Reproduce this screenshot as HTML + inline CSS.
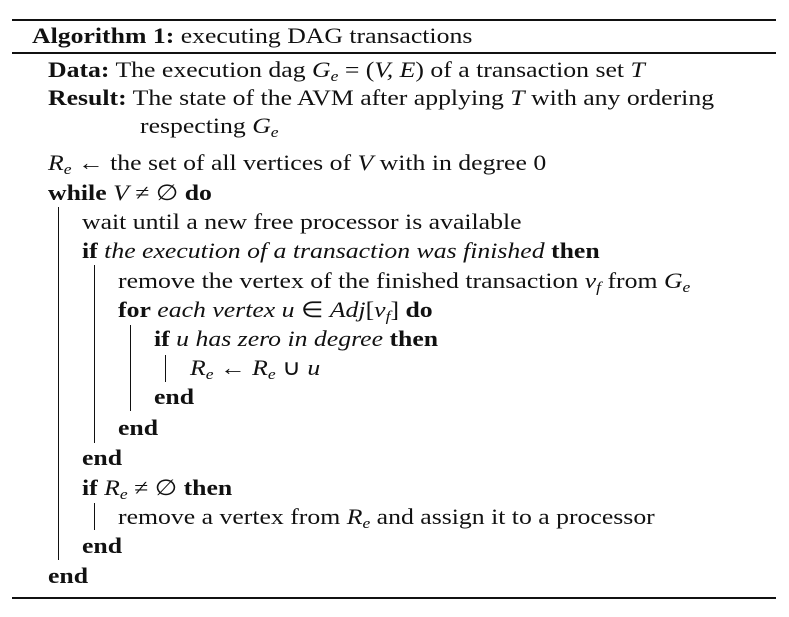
<!DOCTYPE html>
<html><head><meta charset="utf-8"><style>
body{margin:0;background:#fff;}
#c{position:relative;width:789px;height:617px;background:#fff;font-family:"Liberation Serif",serif;font-size:22px;color:#111;}
.l{position:absolute;white-space:nowrap;line-height:24px;transform:scaleX(1.17);transform-origin:0 50%;}
.r{position:absolute;background:#111;}
b{font-weight:bold;}
i{font-style:italic;}
sub{font-size:15px;vertical-align:-4px;line-height:0;}
</style></head><body>
<div id="c">
<div class="r" style="left:12px;top:19px;width:764px;height:2px"></div>
<div class="l" style="left:32px;top:24px"><b>Algorithm 1:</b> executing DAG transactions</div>
<div class="r" style="left:12px;top:52px;width:764px;height:1.5px"></div>
<div class="l" style="left:48px;top:58px"><b>Data:</b> The execution dag <i>G</i><sub><i>e</i></sub> = (<i>V, E</i>) of a transaction set <i>T</i></div>
<div class="l" style="left:48px;top:86px"><b>Result:</b> The state of the AVM after applying <i>T</i> with any ordering</div>
<div class="l" style="left:140px;top:114px">respecting <i>G</i><sub><i>e</i></sub></div>
<div class="l" style="left:48px;top:151px"><i>R</i><sub><i>e</i></sub> ← the set of all vertices of <i>V</i> with in degree 0</div>
<div class="l" style="left:48px;top:181px"><b>while</b> <i>V</i> ≠ ∅ <b>do</b></div>
<div class="r" style="left:58px;top:207px;width:1px;height:353px"></div>
<div class="l" style="left:82px;top:210px">wait until a new free processor is available</div>
<div class="l" style="left:82px;top:239px"><b>if</b> <i>the execution of a transaction was finished</i> <b>then</b></div>
<div class="r" style="left:94px;top:265px;width:1px;height:178px"></div>
<div class="l" style="left:118px;top:269px">remove the vertex of the finished transaction <i>v</i><sub><i>f</i></sub> from <i>G</i><sub><i>e</i></sub></div>
<div class="l" style="left:118px;top:298px"><b>for</b> <i>each vertex u</i> ∈ <i>Adj</i>[<i>v</i><sub><i>f</i></sub>] <b>do</b></div>
<div class="r" style="left:130px;top:325px;width:1px;height:86px"></div>
<div class="l" style="left:154px;top:327px"><b>if</b> <i>u has zero in degree</i> <b>then</b></div>
<div class="r" style="left:165px;top:355px;width:1px;height:27px"></div>
<div class="l" style="left:190px;top:356px"><i>R</i><sub><i>e</i></sub> ← <i>R</i><sub><i>e</i></sub> ∪ <i>u</i></div>
<div class="l" style="left:154px;top:385px"><b>end</b></div>
<div class="l" style="left:118px;top:416px"><b>end</b></div>
<div class="l" style="left:82px;top:446px"><b>end</b></div>
<div class="l" style="left:82px;top:476px"><b>if</b> <i>R</i><sub><i>e</i></sub> ≠ ∅ <b>then</b></div>
<div class="r" style="left:94px;top:503px;width:1px;height:27px"></div>
<div class="l" style="left:118px;top:505px">remove a vertex from <i>R</i><sub><i>e</i></sub> and assign it to a processor</div>
<div class="l" style="left:82px;top:534px"><b>end</b></div>
<div class="l" style="left:48px;top:564px"><b>end</b></div>
<div class="r" style="left:12px;top:597px;width:764px;height:2px"></div>
</div>
</body></html>
